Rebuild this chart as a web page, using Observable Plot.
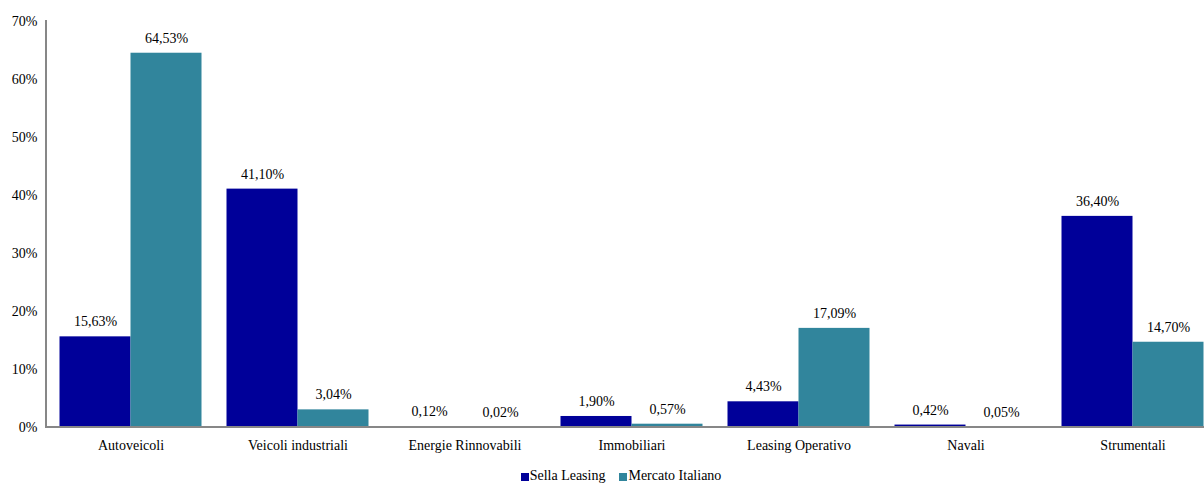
<!DOCTYPE html>
<html>
<head>
<meta charset="utf-8">
<script src="https://cdn.jsdelivr.net/npm/d3@7"></script>
<script src="https://cdn.jsdelivr.net/npm/@observablehq/plot@0.6"></script>
<style>
  html, body { margin: 0; padding: 0; background: #fff; overflow: hidden; }
  #chart svg { overflow: hidden; display: block; }
  .legend { display: flex; justify-content: center; align-items: center; gap: 14px;
            font-family: "Liberation Serif", serif; font-size: 14px; color: #000;
            margin-left: 38px; margin-top: 6px; }
  .legend span.sw { display: inline-block; width: 8px; height: 8px; margin-right: 1px; vertical-align: middle; }
</style>
</head>
<body>
<div id="chart"></div>
<script>
const categories = ["Autoveicoli", "Veicoli industriali", "Energie Rinnovabili", "Immobiliari", "Leasing Operativo", "Navali", "Strumentali"];
const seriesNames = ["Sella Leasing", "Mercato Italiano"];
const sellaLeasing = [15.63, 41.10, 0.12, 1.90, 4.43, 0.42, 36.40];
const mercatoItaliano = [64.53, 3.04, 0.02, 0.57, 17.09, 0.05, 14.70];
const yTicks = [0, 10, 20, 30, 40, 50, 60, 70];
const colors = ["#000099", "#31859C"];

const data = [];
categories.forEach((c, i) => {
  data.push({category: c, series: seriesNames[0], value: sellaLeasing[i]});
  data.push({category: c, series: seriesNames[1], value: mercatoItaliano[i]});
});
const fmt = v => v.toFixed(2).replace(".", ",") + "%";

const chart = Plot.plot({
  width: 1204,
  height: 462,
  marginTop: 21,
  marginBottom: 35,
  marginLeft: 46.5,
  marginRight: 0,
  style: {fontFamily: "'Liberation Serif', serif", fontSize: "14px", color: "#000", background: "#fff"},
  fx: {domain: categories, range: [46.5, 1215.5], padding: 0, axis: "bottom", tickSize: 0, tickPadding: 13, label: null},
  x: {domain: seriesNames, paddingInner: 0, paddingOuter: 0.176, axis: null},
  y: {domain: [0, 70], ticks: yTicks, tickFormat: d => d + "%", tickSize: 0, tickPadding: 10, label: null},
  color: {domain: seriesNames, range: colors},
  marks: [
    Plot.barY(data, {fx: "category", x: "series", y: "value", fill: "series"}),
    Plot.text(data, {fx: "category", x: "series", y: "value", text: d => fmt(d.value), dy: -15, fill: "#000", fontSize: 14}),
    Plot.ruleY([0], {stroke: "#878787", strokeWidth: 2, dy: -0.5})
  ]
});
document.getElementById("chart").appendChild(chart);

// left axis line, positioned from the library's scales
const fxS = chart.scale("fx");
const yS = chart.scale("y");
d3.select(chart).append("line")
  .attr("x1", fxS.range[0] - 0.5).attr("x2", fxS.range[0] - 0.5)
  .attr("y1", yS.range[1] - 1).attr("y2", yS.range[0] + 1)
  .attr("stroke", "#878787").attr("stroke-width", 2);

const legend = document.createElement("div");
legend.className = "legend";
seriesNames.forEach((s, i) => {
  const item = document.createElement("div");
  item.innerHTML = `<span class="sw" style="background:${colors[i]}"></span>${s}`;
  legend.appendChild(item);
});
document.body.appendChild(legend);
</script>
</body>
</html>
